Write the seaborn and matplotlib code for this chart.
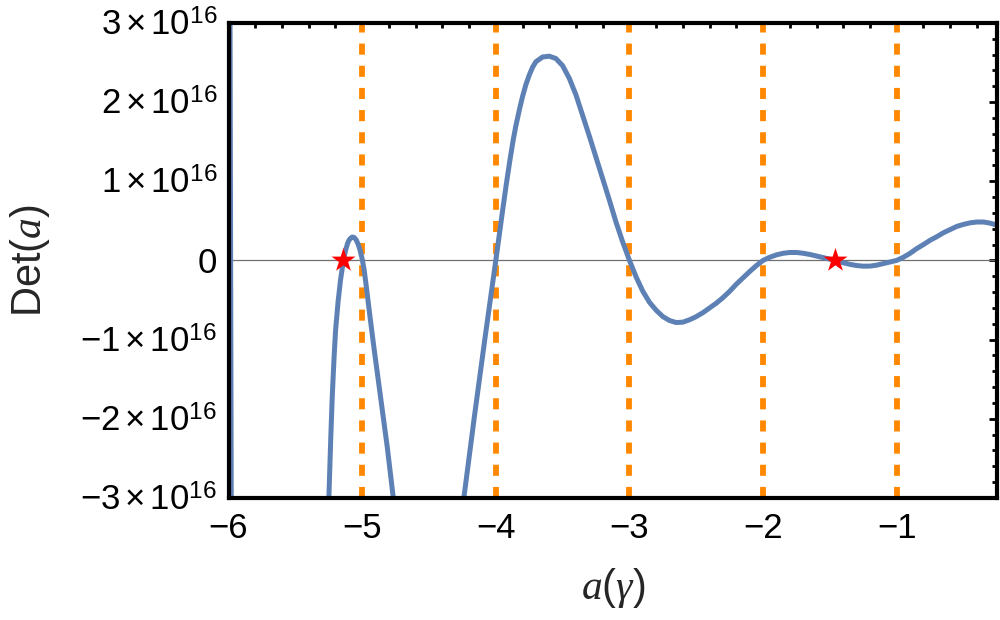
import numpy as np
import pandas as pd
import matplotlib
matplotlib.use("Agg")
import matplotlib.pyplot as plt
from matplotlib.ticker import FixedLocator, AutoMinorLocator
import seaborn as sns

# ---- data (values of Det(a) in units of 1e16) ----
det_x = [-5.990, -5.978, -5.270, -5.249, -5.235, -5.224, -5.210, -5.199, -5.180,
         -5.162, -5.150, -5.140, -5.124, -5.110, -5.100, -5.090, -5.075, -5.060,
         -5.045, -5.030, -5.015, -5.000, -4.985, -4.966, -4.940, -4.912, -4.862,
         -4.812, -4.767, -4.745,
         -4.260, -4.239, -4.160, -4.080, -4.000, -3.950, -3.920, -3.894, -3.870,
         -3.850, -3.820, -3.800, -3.775, -3.750, -3.725, -3.700, -3.650, -3.600,
         -3.550, -3.500, -3.450, -3.400, -3.350, -3.300, -3.250, -3.200, -3.150,
         -3.100, -3.050, -3.000, -2.950, -2.900, -2.850, -2.800, -2.750, -2.700,
         -2.650, -2.600, -2.550, -2.500, -2.450, -2.400, -2.350, -2.300, -2.250,
         -2.200, -2.150, -2.100, -2.050, -2.000, -1.950, -1.900, -1.850, -1.800,
         -1.750, -1.700, -1.650, -1.600, -1.550, -1.500, -1.450, -1.400, -1.350,
         -1.300, -1.250, -1.200, -1.150, -1.100, -1.050, -1.000, -0.950, -0.900,
         -0.850, -0.800, -0.750, -0.700, -0.650, -0.600, -0.550, -0.500, -0.450,
         -0.400, -0.350, -0.300, -0.250]
det_y = [4.00, -4.00, -4.26, -3.00, -2.25, -1.73, -1.22, -0.886, -0.52,
         -0.25, -0.11, 0.00, 0.127, 0.21, 0.25, 0.275, 0.295, 0.29,
         0.26, 0.205, 0.125, 0.02, -0.12, -0.37, -0.73, -1.10, -1.73,
         -2.36, -3.00, -3.30,
         -3.28, -3.00, -1.97, -0.97, 0.00, 0.62, 0.98, 1.27, 1.52,
         1.70, 1.93, 2.07, 2.22, 2.34, 2.44, 2.51, 2.57, 2.58,
         2.55, 2.46, 2.30, 2.09, 1.83, 1.57, 1.30, 1.03, 0.76,
         0.48, 0.23, 0.00, -0.21, -0.39, -0.53, -0.63, -0.71, -0.76,
         -0.785, -0.78, -0.75, -0.71, -0.66, -0.60, -0.54, -0.47, -0.39,
         -0.30, -0.22, -0.14, -0.065, 0.00, 0.04, 0.07, 0.09, 0.10,
         0.10, 0.09, 0.075, 0.055, 0.035, 0.015, -0.005, -0.03, -0.05,
         -0.065, -0.073, -0.072, -0.06, -0.04, -0.02, 0.00, 0.04, 0.09,
         0.15, 0.20, 0.255, 0.30, 0.35, 0.39, 0.43, 0.455, 0.475,
         0.485, 0.485, 0.47, 0.445]
det_scale = 1e16

pole_x = [-5, -4, -3, -2, -1]
root_x = [-5.14, -1.464]
root_y = [0.0, 0.0]

x_ticks = [-6, -5, -4, -3, -2, -1]
x_tick_labels = ["\u22126", "\u22125", "\u22124", "\u22123", "\u22122", "\u22121"]
y_ticks = [-3, -2, -1, 0, 1, 2, 3]
y_tick_labels = [r"$-3\times10^{16}$", r"$-2\times10^{16}$", r"$-1\times10^{16}$", "0",
                 r"$1\times10^{16}$", r"$2\times10^{16}$", r"$3\times10^{16}$"]

# ---- styling ----
sns.set_theme(style="white")
plt.rcParams.update({
    "font.family": ["Liberation Sans", "DejaVu Sans"],
    "mathtext.fontset": "custom",
    "mathtext.rm": "Liberation Sans",
    "mathtext.sf": "Liberation Sans",
    "mathtext.it": "Liberation Serif:italic",
    "axes.unicode_minus": True,
})

fig = plt.figure(figsize=(10, 6.2), dpi=100)
ax = fig.add_axes([0.2285, 0.197, 0.7685, 0.766])

df = pd.DataFrame({"x": det_x, "y": np.array(det_y) * det_scale})
root_df = pd.DataFrame({"x": root_x, "y": np.array(root_y) * det_scale})

ax.axhline(0, color="#707070", lw=0.9, zorder=1)
for px in pole_x:
    ax.axvline(px, color="#ff8800", lw=4.2, linestyle=(0, (1.9, 1.9)),
               dash_capstyle="butt", zorder=1.5)

sns.lineplot(data=df, x="x", y="y", ax=ax, sort=False, estimator=None,
             color="#5e81b5", lw=3.6, zorder=2)
sns.scatterplot(data=root_df, x="x", y="y", ax=ax, marker="*", s=330,
                color="#ff0000", linewidth=0, zorder=4)

ax.set_xlim(-6, -0.25)
ax.set_ylim(-3 * det_scale, 3 * det_scale)

ax.xaxis.set_major_locator(FixedLocator(x_ticks))
ax.set_xticklabels(x_tick_labels)
ax.yaxis.set_major_locator(FixedLocator([v * det_scale for v in y_ticks]))
ax.set_yticklabels(y_tick_labels)
ax.xaxis.set_minor_locator(AutoMinorLocator(5))
ax.yaxis.set_minor_locator(AutoMinorLocator(5))

ax.tick_params(which="both", direction="in", top=True, right=True,
               colors="black", width=2.0)
ax.tick_params(which="major", length=6.0, labelsize=25)
ax.tick_params(axis="x", which="major", pad=10)
ax.tick_params(axis="y", which="major", pad=8)
ax.tick_params(which="minor", length=3.5)

for sp in ax.spines.values():
    sp.set_visible(True)
    sp.set_color("black")
    sp.set_linewidth(3.0)

ax.set_xlabel(r"$a(\gamma)$", fontsize=30, va="center")
ax.set_ylabel(r"Det$(a)$", fontsize=30, va="center")
ax.xaxis.set_label_coords(0.5, -0.19)
ax.yaxis.set_label_coords(-0.258, 0.5)

fig.savefig("out.png", dpi=100)
